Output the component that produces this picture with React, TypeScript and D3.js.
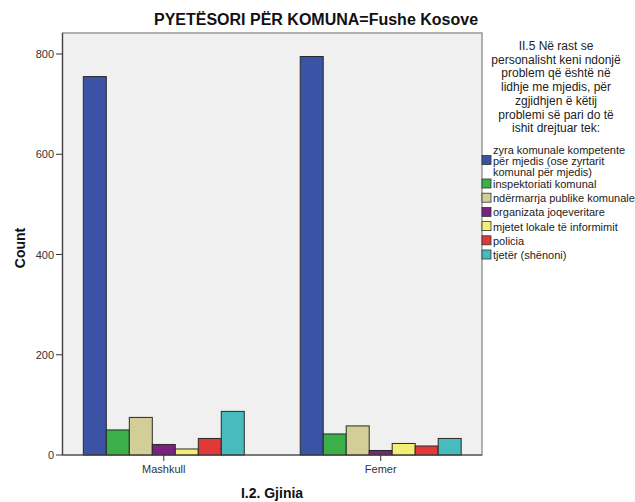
import React from "react";
import * as d3 from "d3";

const categories = ["Mashkull", "Femer"];
const seriesNames = [
  "zyra komunale kompetente për mjedis (ose zyrtarit komunal për mjedis)",
  "inspektoriati komunal",
  "ndërmarrja publike komunale",
  "organizata joqeveritare",
  "mjetet lokale të informimit",
  "policia",
  "tjetër (shënoni)",
];
const legendLines = [
  ["zyra komunale kompetente", "për mjedis (ose zyrtarit", "komunal për mjedis)"],
  ["inspektoriati komunal"],
  ["ndërmarrja publike komunale"],
  ["organizata joqeveritare"],
  ["mjetet lokale të informimit"],
  ["policia"],
  ["tjetër (shënoni)"],
];
const mashkullValues = [755, 50, 75, 21, 12, 33, 87];
const femerValues = [795, 42, 58, 9, 23, 18, 33];
const colors = ["#3a53a4", "#3aaf4a", "#d3ce97", "#7b2180", "#f3ee74", "#e23838", "#48bbbf"];
const yTicks = [0, 200, 400, 600, 800];
const legendTitle = [
  "II.5 Në rast se",
  "personalisht keni ndonjë",
  "problem që është në",
  "lidhje me mjedis, për",
  "zgjidhjen ë këtij",
  "problemi së pari do të",
  "ishit drejtuar tek:",
];

const values: Record<string, number[]> = { Mashkull: mashkullValues, Femer: femerValues };

export default function App() {
  const W = 635, H = 502;
  const left = 62.5, right = 482, top = 33, bottom = 455;
  const x0 = d3.scaleBand<string>().domain(categories).range([left, right]).paddingInner(0.258).paddingOuter(0.096);
  const x1 = d3.scaleBand<string>().domain(seriesNames).range([0, x0.bandwidth()]);
  const y = d3.scaleLinear().domain([0, 800]).range([bottom, 54]);
  const font = "'Liberation Sans', Arial, sans-serif";

  const itemY: number[] = [];
  let cy = 160.5;
  legendLines.forEach((lines, i) => {
    if (i === 0) { itemY.push(cy); cy = 184; }
    else { itemY.push(cy); cy += 14.2; }
  });

  return (
    <svg width={W} height={H} style={{ position: "absolute", left: 0, top: 0, background: "#fff" }} fontFamily={font}>
      <rect x={0} y={0} width={W} height={H} fill="#fff" />
      <text x={316} y={25} textAnchor="middle" fontSize={16} fontWeight="bold" fill="#111">PYETËSORI PËR KOMUNA=Fushe Kosove</text>
      <rect x={left} y={top} width={right - left} height={bottom - top} fill="#f0f0f0" stroke="#999" strokeWidth={1.5} />
      {categories.map((c) =>
        values[c].map((v, i) => (
          <rect key={c + i} x={(x0(c) as number) + (x1(seriesNames[i]) as number)} y={y(v)} width={x1.bandwidth()} height={bottom - y(v)} fill={colors[i]} stroke="#2a2a2a" strokeWidth={1} />
        ))
      )}
      <line x1={left} x2={left} y1={top} y2={bottom} stroke="#444" strokeWidth={1.2} />
      <line x1={left} x2={right} y1={bottom} y2={bottom} stroke="#444" strokeWidth={1.2} />
      {yTicks.map((t) => (
        <g key={t}>
          <line x1={56} x2={left} y1={y(t)} y2={y(t)} stroke="#333" />
          <text x={54} y={y(t) + 4} textAnchor="end" fontSize={11} fill="#333">{t}</text>
        </g>
      ))}
      {categories.map((c) => {
        const cx = (x0(c) as number) + x0.bandwidth() / 2;
        return (
          <g key={c}>
            <line x1={cx} x2={cx} y1={bottom} y2={bottom + 6} stroke="#333" />
            <text x={cx} y={473} textAnchor="middle" fontSize={11} fill="#333">{c}</text>
          </g>
        );
      })}
      <text x={272} y={498} textAnchor="middle" fontSize={14} fontWeight="bold" fill="#111">I.2. Gjinia</text>
      <text transform={`translate(25,248) rotate(-90)`} textAnchor="middle" fontSize={14} fontWeight="bold" fill="#111">Count</text>
      {legendTitle.map((l, i) => (
        <text key={l} x={556} y={50 + i * 13.7} textAnchor="middle" fontSize={12} fill="#222">{l}</text>
      ))}
      {legendLines.map((lines, i) => (
        <g key={i}>
          <rect x={482} y={itemY[i] - 5} width={9} height={9} fill={colors[i]} stroke="#333" strokeWidth={0.8} />
          {lines.map((ln, j) => (
            <text key={j} x={493} y={itemY[i] + 4 + (j - (lines.length - 1) / 2) * 11} fontSize={11} fill="#222">{ln}</text>
          ))}
        </g>
      ))}
    </svg>
  );
}
